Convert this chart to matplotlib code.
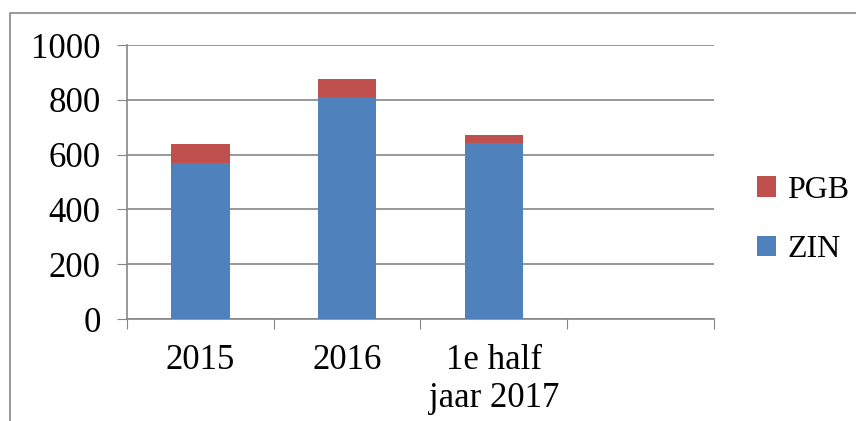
import matplotlib.pyplot as plt
from matplotlib.patches import Rectangle

categories = ['2015', '2016', '1e half\njaar 2017', '']
zin = [569, 809, 644, 0]
pgb = [69, 66, 29, 0]

plt.rcParams['font.family'] = ['Liberation Serif', 'DejaVu Serif']

fig = plt.figure(figsize=(8.56, 4.21), dpi=100)
ax = fig.add_axes([127 / 856, 1 - 319 / 421, (714 - 127) / 856, (319 - 45) / 421])

x = list(range(len(categories)))
ax.bar(x, zin, width=0.4, color='#4F81BD', label='ZIN', zorder=3)
ax.bar(x, pgb, width=0.4, bottom=zin, color='#C0504D', label='PGB', zorder=3)

ax.set_xlim(-0.5, 3.5)
ax.set_ylim(0, 1000)
ax.set_yticks(range(0, 1001, 200))
ax.set_xticks([i - 0.5 for i in range(5)])
ax.set_xticklabels([])
ax.set_xticks(x, minor=True)
ax.set_xticklabels(categories, minor=True, fontsize=25, linespacing=1.2)
ax.tick_params(axis='x', which='minor', length=0, pad=18)
ax.tick_params(axis='x', which='major', length=7, color='#868686', direction='out')
ax.tick_params(axis='y', length=7, color='#868686', labelsize=25, pad=12)

ax.grid(axis='y', color='#868686', linewidth=1.2, zorder=0)
for side in ['top', 'right']:
    ax.spines[side].set_visible(False)
for side in ['left', 'bottom']:
    ax.spines[side].set_color('#868686')
    ax.spines[side].set_linewidth(1.2)

handles, labels = ax.get_legend_handles_labels()
fig.legend(handles[::-1], labels[::-1], loc='center left', bbox_to_anchor=(757 / 856, 1 - 220 / 421),
           frameon=False, fontsize=23, handlelength=0.6, handleheight=0.6,
           handletextpad=0.35, labelspacing=0.95, borderpad=0, borderaxespad=0)

fig.patches.append(Rectangle((10 / 856, -0.1), 1.2, 1 - 13 / 421 + 0.1,
                             transform=fig.transFigure, fill=False,
                             edgecolor='#868686', linewidth=1.2))

fig.savefig('out.png', dpi=100)
